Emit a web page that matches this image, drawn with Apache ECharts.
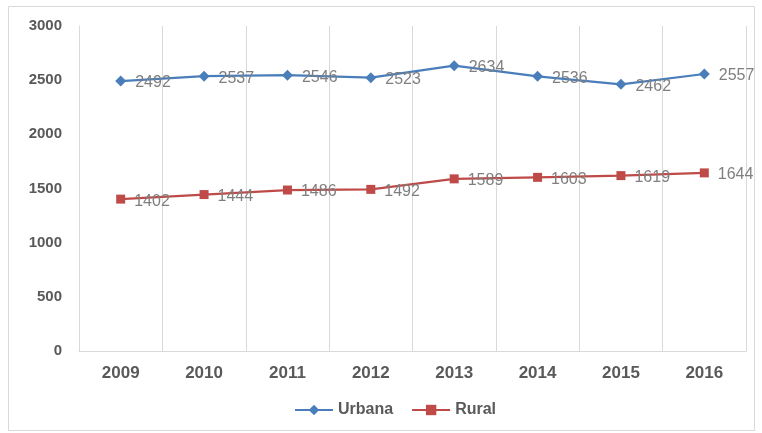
<!DOCTYPE html>
<html><head><meta charset="utf-8">
<script src="https://cdn.jsdelivr.net/npm/echarts@6/dist/echarts.min.js"></script>
<style>html,body{margin:0;padding:0;background:#fff}#c{width:762px;height:433px}</style>
</head><body><div id="c"></div>
<script>
var categories = ['2009','2010','2011','2012','2013','2014','2015','2016'];
var urbana = [2492, 2537, 2546, 2523, 2634, 2536, 2462, 2557];
var rural = [1402, 1444, 1486, 1492, 1589, 1603, 1619, 1644];
var yTicks = [0, 500, 1000, 1500, 2000, 2500, 3000];

var chart = echarts.init(document.getElementById('c'));
var ff = 'Liberation Sans, Arial, sans-serif';
var lbl = {show:true, position:'right', offset:[4,2], color:'#7f7f7f', fontSize:16, fontFamily:ff};
chart.setOption({
  animation:false,
  graphic:[{type:'rect', shape:{x:8.5,y:6.5,width:746,height:424}, style:{fill:'none', stroke:'#d9d9d9', lineWidth:1}, silent:true}],
  grid:{left:79, right:16, top:26, bottom:82},
  xAxis:{type:'category', data:categories, boundaryGap:true,
    axisLine:{lineStyle:{color:'#d9d9d9'}}, axisTick:{show:false},
    splitLine:{show:true, lineStyle:{color:'#d9d9d9'}},
    axisLabel:{color:'#595959', fontWeight:'bold', fontSize:17, margin:14, fontFamily:ff}},
  yAxis:{type:'value', min:yTicks[0], max:yTicks[yTicks.length-1], interval:500,
    axisLine:{show:true, lineStyle:{color:'#d9d9d9'}}, axisTick:{show:false},
    splitLine:{show:false},
    axisLabel:{color:'#595959', fontWeight:'bold', fontSize:15, margin:17, fontFamily:ff,
      formatter:function(v){return String(v);}}},
  legend:{bottom:10, left:289, itemGap:18, itemWidth:38, itemHeight:13,
    textStyle:{color:'#595959', fontWeight:'bold', fontSize:16, fontFamily:ff},
    data:['Urbana','Rural']},
  series:[
    {name:'Urbana', type:'line', data:urbana, symbol:'diamond', symbolSize:11,
      itemStyle:{color:'#4a7ebb'}, lineStyle:{color:'#4a7ebb', width:2.25}, label:lbl},
    {name:'Rural', type:'line', data:rural, symbol:'rect', symbolSize:9,
      itemStyle:{color:'#be4b48'}, lineStyle:{color:'#be4b48', width:2.25}, label:lbl}
  ]
});
</script></body></html>
